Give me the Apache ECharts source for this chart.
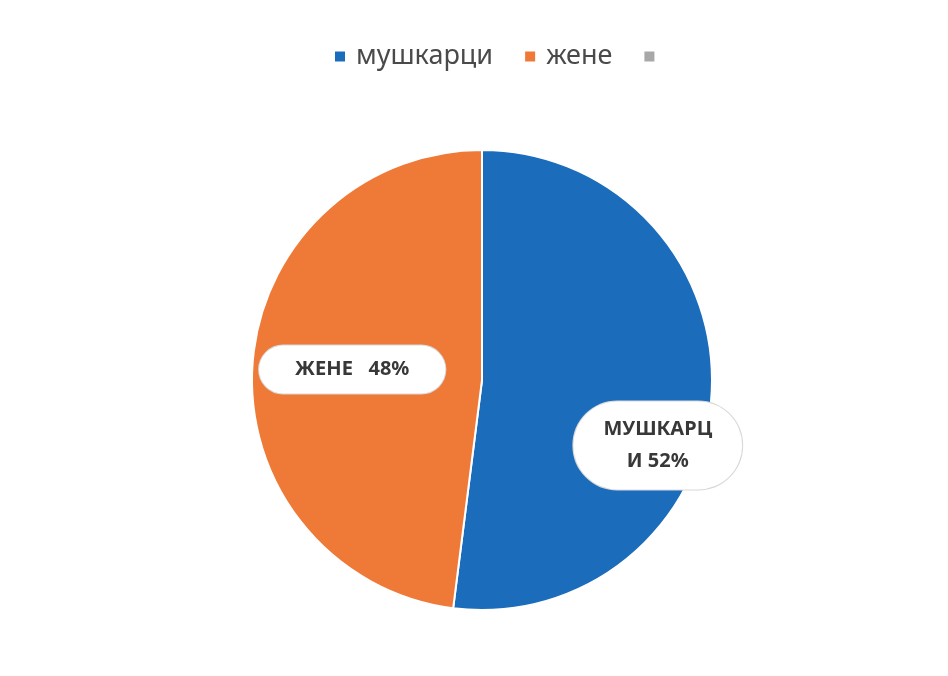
<!DOCTYPE html>
<html><head><meta charset="utf-8">
<script src="https://cdn.jsdelivr.net/npm/echarts@6/dist/echarts.min.js"></script>
<style>html,body{margin:0;padding:0;background:#fff}#c{width:948px;height:676px}</style>
</head><body><div id="c"></div>
<script>
const categories = ['мушкарци', 'жене', ' '];
const values = [52, 48, 0];
const labelTexts = ['МУШКАРЦ\nИ 52%', 'ЖЕНЕ   48%', ''];
const colors = ['#1c6cbc', '#ef7936', '#a8a8a8'];

const chart = echarts.init(document.getElementById('c'));
const font = '"Noto Sans", "Open Sans", sans-serif';
chart.setOption({
  animation: false,
  color: colors,
  legend: {
    top: 38, left: 328,
    icon: 'rect', itemWidth: 12, itemHeight: 12, itemGap: 30,
    textStyle: { fontFamily: font, fontSize: 27, color: '#4a4a4a', padding: [0, 0, 0, 5] },
    data: categories
  },
  series: [{
    type: 'pie',
    center: [482, 380],
    radius: 230,
    startAngle: 90,
    clockwise: true,
    stillShowZeroSum: false,
    itemStyle: { borderColor: '#fff', borderWidth: 2 },
    label: {
      show: true, position: 'inside',
      formatter: p => labelTexts[p.dataIndex],
      fontFamily: font, fontSize: 20, fontWeight: 'bold', color: '#383838',
      lineHeight: 32, align: 'center',
      backgroundColor: '#fff', borderColor: '#d8d8d8', borderWidth: 1,
      borderRadius: 60
    },
    labelLine: { show: false },
    labelLayout: p => p.dataIndex === 0 ? { dx: 58, dy: 58 } : { dx: -12, dy: -3 },
    data: categories.map((n, i) => ({
      name: n, value: values[i],
      label: i === 0 ? { padding: [12, 30] } : (i === 1 ? { padding: [8, 36] } : { show: false })
    }))
  }]
});
</script></body></html>
